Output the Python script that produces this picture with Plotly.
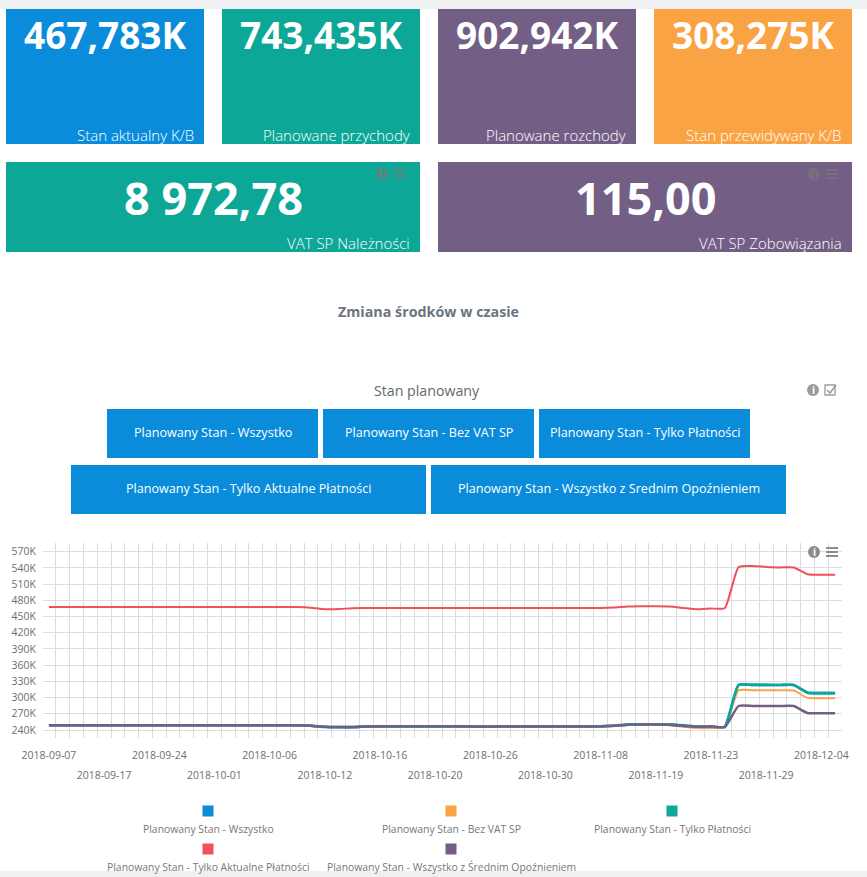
"""Dashboard view: KPI cards, selector buttons and the planned balance line chart."""
import plotly.graph_objects as go

W, H = 867, 877
FONT = 'Open Sans'

BLUE = '#0A8CDB'
TEAL = '#0DA798'
PURPLE = '#735F85'
ORANGE = '#FAA344'
RED = '#EC5257'

dates = [
    '2018-09-07', '2018-09-10', '2018-09-12', '2018-09-14', '2018-09-17', '2018-09-19',
    '2018-09-20', '2018-09-21', '2018-09-24', '2018-09-25', '2018-09-26', '2018-09-28',
    '2018-10-01', '2018-10-02', '2018-10-03', '2018-10-05', '2018-10-06', '2018-10-08',
    '2018-10-09', '2018-10-10', '2018-10-12', '2018-10-13', '2018-10-14', '2018-10-15',
    '2018-10-16', '2018-10-17', '2018-10-18', '2018-10-19', '2018-10-20', '2018-10-22',
    '2018-10-23', '2018-10-25', '2018-10-26', '2018-10-27', '2018-10-28', '2018-10-29',
    '2018-10-30', '2018-10-31', '2018-11-02', '2018-11-05', '2018-11-08', '2018-11-12',
    '2018-11-14', '2018-11-16', '2018-11-19', '2018-11-20', '2018-11-21', '2018-11-22',
    '2018-11-23', '2018-11-24', '2018-11-26', '2018-11-28', '2018-11-29', '2018-11-30',
    '2018-12-01', '2018-12-03', '2018-12-04', '2018-12-05',
]
upper_labels = ['2018-09-07', '2018-09-24', '2018-10-06', '2018-10-16', '2018-10-26',
                '2018-11-08', '2018-11-23', '2018-12-04']
lower_labels = ['2018-09-17', '2018-10-01', '2018-10-12', '2018-10-20', '2018-10-30',
                '2018-11-19', '2018-11-29']
y_ticks = [240, 270, 300, 330, 360, 390, 420, 450, 480, 510, 540, 570]

# values in thousands
wszystko = [
    248.7, 248.7, 248.7, 248.7, 248.7, 248.7, 248.7, 248.7, 248.7, 248.7, 248.7, 248.7,
    248.7, 248.7, 248.7, 248.7, 248.7, 248.7, 248.7, 248, 246, 245.5, 245.5, 246.5,
    246.8, 246.8, 246.8, 246.8, 246.8, 246.8, 246.8, 246.5, 246.5, 246.5, 246.5, 246.5,
    246.5, 246.5, 246.5, 246.5, 246.8, 248, 250, 250.3, 250.3, 250, 248.5, 246.5,
    246, 246, 323.3, 323.5, 323.5, 323.3, 323.3, 309, 308.3, 308.3,
]
bez_vat = [
    248.7, 248.7, 248.7, 248.7, 248.7, 248.7, 248.7, 248.7, 248.7, 248.7, 248.7, 248.7,
    248.7, 248.7, 248.7, 248.7, 248.7, 248.7, 248.7, 248, 246, 245.5, 245.5, 246.5,
    246.8, 246.8, 246.8, 246.8, 246.8, 246.8, 246.8, 246.5, 246.5, 246.5, 246.5, 246.5,
    246.5, 246.5, 246.5, 246.5, 246.8, 247.5, 249.5, 250, 250, 249, 246, 243.5,
    243.5, 245.5, 313.5, 313.8, 313.8, 313.5, 313, 299.5, 298.7, 298.7,
]
platnosci = [
    248.7, 248.7, 248.7, 248.7, 248.7, 248.7, 248.7, 248.7, 248.7, 248.7, 248.7, 248.7,
    248.7, 248.7, 248.7, 248.7, 248.7, 248.7, 248.7, 248, 245.5, 245, 245, 246.5,
    246.8, 246.8, 246.8, 246.8, 246.8, 246.8, 246.8, 246.5, 246.5, 246.5, 246.5, 246.5,
    246.5, 246.5, 246.5, 246.5, 246.8, 248, 250.3, 250.5, 250.5, 250, 248, 246,
    246, 246, 323.3, 323.5, 323.5, 323.3, 323.3, 309, 308.3, 308.3,
]
aktualne = [
    467.8, 467.8, 467.8, 467.8, 467.8, 467.8, 467.8, 467.8, 467.8, 467.8, 467.8, 467.8,
    467.8, 467.8, 467.8, 467.8, 467.8, 467.8, 467.8, 466.5, 463.5, 464, 465.5, 465.8,
    465.8, 465.8, 465.8, 465.8, 465.8, 465.8, 465.8, 465.8, 465.8, 465.8, 465.8, 465.8,
    465.8, 465.8, 465.8, 465.8, 466, 467, 468.5, 469, 469, 468.5, 466, 463.5,
    465, 465.5, 541.5, 543.5, 542, 541, 541, 528.5, 527.5, 527.5,
]
opoznienie = [
    248.7, 248.7, 248.7, 248.7, 248.7, 248.7, 248.7, 248.7, 248.7, 248.7, 248.7, 248.7,
    248.7, 248.7, 248.7, 248.7, 248.7, 248.7, 248.7, 248, 246, 245.5, 245.5, 246.5,
    246.8, 246.8, 246.8, 246.8, 246.8, 246.8, 246.8, 246.2, 246.2, 246.5, 246.5, 246.5,
    246.5, 246.5, 246.5, 246.5, 246.8, 248, 249.8, 250, 250, 249.5, 247.5, 246,
    247, 245.5, 284.4, 284.6, 284.6, 284.4, 284.4, 271.5, 271, 271,
]

series_names = ['Planowany Stan - Wszystko', 'Planowany Stan - Bez VAT SP',
                'Planowany Stan - Tylko Płatności', 'Planowany Stan - Tylko Aktualne Płatności',
                'Planowany Stan - Wszystko z Średnim Opoźnieniem']
series_values = [wszystko, bez_vat, platnosci, aktualne, opoznienie]
series_colors = [BLUE, ORANGE, TEAL, RED, PURPLE]
series_widths = [2.6, 2, 2.6, 2, 2.5]

button_names = ['Planowany Stan - Wszystko', 'Planowany Stan - Bez VAT SP',
                'Planowany Stan - Tylko Płatności', 'Planowany Stan - Tylko Aktualne Płatności',
                'Planowany Stan - Wszystko z Srednim Opoźnieniem']
small_cards = [('467,783K', 'Stan aktualny K/B', BLUE), ('743,435K', 'Planowane przychody', TEAL),
               ('902,942K', 'Planowane rozchody', PURPLE), ('308,275K', 'Stan przewidywany K/B', ORANGE)]
wide_cards = [('8 972,78', 'VAT SP Należności', TEAL), ('115,00', 'VAT SP Zobowiązania', PURPLE)]


def px(x):
    return x / W


def py(y):
    return 1 - y / H


def rect(x0, y0, x1, y1, color, **kw):
    return dict(type='rect', xref='paper', yref='paper', x0=px(x0), x1=px(x1),
                y0=py(y0), y1=py(y1), fillcolor=color, line_width=0, layer='below', **kw)


def text(x, y, s, size, color, anchor='center', weight=None):
    return dict(xref='paper', yref='paper', x=px(x), y=py(y), text=s, showarrow=False,
                xanchor=anchor, yanchor='middle',
                font=dict(family=FONT, size=size, color=color, weight=weight))


def info_icon(x, y, color, glyph='white', r=6):
    shape = dict(type='circle', xref='paper', yref='paper', x0=px(x - r), x1=px(x + r),
                 y0=py(y + r), y1=py(y - r), fillcolor=color, line_width=0, layer='above')
    return shape, text(x, y, 'i', 10, glyph, weight=700)


def menu_icon(x, y, color):
    return [dict(type='line', xref='paper', yref='paper', x0=px(x - 6), x1=px(x + 6),
                 y0=py(y + d), y1=py(y + d), line=dict(color=color, width=2), layer='above')
            for d in (-4, 0, 4)]


shapes, notes = [], []
shapes.append(rect(0, 0, W, 9, '#EEF0F2'))
shapes.append(rect(0, 871, W, H, '#EEF0F2'))

for (val, label, color), x0 in zip(small_cards, [6, 222, 438, 654]):
    shapes.append(rect(x0, 9, x0 + 198, 144, color))
    notes.append(text(x0 + 99, 35, val, 37, 'white', weight=700))
    notes.append(text(x0 + 190, 135, label, 15, 'white', 'right', 300))

for (val, label, color), x0 in zip(wide_cards, [6, 438]):
    shapes.append(rect(x0, 162, x0 + 414, 252, color))
    notes.append(text(x0 + 207, 198, val, 45, 'white', weight=700))
    notes.append(text(x0 + 406, 243, label, 15, 'white', 'right', 300))
    s, t = info_icon(x0 + 376, 174, 'rgba(120,120,120,0.7)', glyph=color)
    shapes.append(s)
    notes.append(t)
    shapes += menu_icon(x0 + 394, 174, 'rgba(120,120,120,0.7)')

notes.append(text(428, 311, 'Zmiana środków w czasie', 14.3, '#6B7580', weight=700))
notes.append(text(427, 391, 'Stan planowany', 14.2, '#666666'))

# info + checkbox next to the chart title
s, t = info_icon(813, 390, '#9A9A9A')
shapes.append(s)
notes.append(t)
shapes.append(dict(type='rect', xref='paper', yref='paper', x0=px(825), x1=px(835), y0=py(395), y1=py(385),
                   line=dict(color='#9A9A9A', width=1.3), layer='above'))
shapes.append(dict(type='path', xref='paper', yref='paper', layer='above',
                   path=f'M {px(827)},{py(390)} L {px(830)},{py(393)} L {px(836)},{py(385)}',
                   line=dict(color='#9A9A9A', width=1.5)))

button_boxes = [(107, 318, 409, 458), (323, 534, 409, 458), (539, 750, 409, 458),
                (71, 426, 465, 514), (431, 786, 465, 514)]
for name, (x0, x1, y0, y1) in zip(button_names, button_boxes):
    shapes.append(rect(x0, y0, x1, y1, BLUE))
    notes.append(text((x0 + x1) / 2, (y0 + y1) / 2 - 1, name, 12.6, 'white'))

s, t = info_icon(814, 552, '#8C8C8C')
shapes.append(s)
notes.append(t)
shapes += menu_icon(832, 552, '#8C8C8C')

# hand built legend: marker centred above its label
legend_pos = [(208, 811, 829), (451, 811, 829), (672, 811, 829), (208, 849, 867), (451, 849, 867)]
for name, color, (x, ym, yt) in zip(series_names, series_colors, legend_pos):
    shapes.append(rect(x - 5.5, ym - 5.5, x + 5.5, ym + 5.5, color))
    notes.append(text(x, yt, name, 10.4, '#777777'))

fig = go.Figure()
for name, vals, color, lw in zip(series_names, series_values, series_colors, series_widths):
    fig.add_trace(go.Scatter(x=dates, y=vals, name=name, mode='lines', showlegend=False,
                             line=dict(color=color, width=lw, shape='spline', smoothing=0.5)))
# carries the second row of date labels
fig.add_trace(go.Scatter(x=dates, y=wszystko, xaxis='x2', mode='lines', opacity=0,
                         showlegend=False, hoverinfo='skip'))

x_range = [-0.43, 57.5]
fig.update_layout(
    width=W, height=H, autosize=False,
    margin=dict(l=0, r=0, t=0, b=0, pad=0),
    paper_bgcolor='white', plot_bgcolor='white',
    font=dict(family=FONT, size=10.5, color='#6E6E6E'),
    shapes=shapes, annotations=notes,
    xaxis=dict(type='category', categoryorder='array', categoryarray=dates, range=x_range,
               domain=[px(43), px(842)], tickmode='array', tickvals=dates,
               ticktext=[d if d in upper_labels else '' for d in dates],
               tickson='boundaries', tickangle=0, ticks='', showline=False, zeroline=False,
               automargin=False, showgrid=True, gridcolor='#DCDCDC', gridwidth=1, ticklabelstandoff=9),
    xaxis2=dict(type='category', categoryorder='array', categoryarray=dates, range=x_range,
                domain=[px(43), px(842)], overlaying='x', anchor='y', side='bottom',
                tickmode='array', tickvals=lower_labels,
                ticktext=lower_labels, tickangle=0, ticks='', showline=False, zeroline=False,
                automargin=False, showgrid=False, ticklabelstandoff=29),
    yaxis=dict(domain=[py(738), py(543)], range=[225.2, 586.2], tickmode='array', tickvals=y_ticks,
               ticktext=[f'{v}K' for v in y_ticks], showline=False, zeroline=False, ticks='',
               automargin=False, showgrid=True, gridcolor='#DEDEDE', gridwidth=1, ticklabelstandoff=6),
)

fig.write_html("out.html", config={'displayModeBar': False},
               post_script="document.body.style.margin='0';")
